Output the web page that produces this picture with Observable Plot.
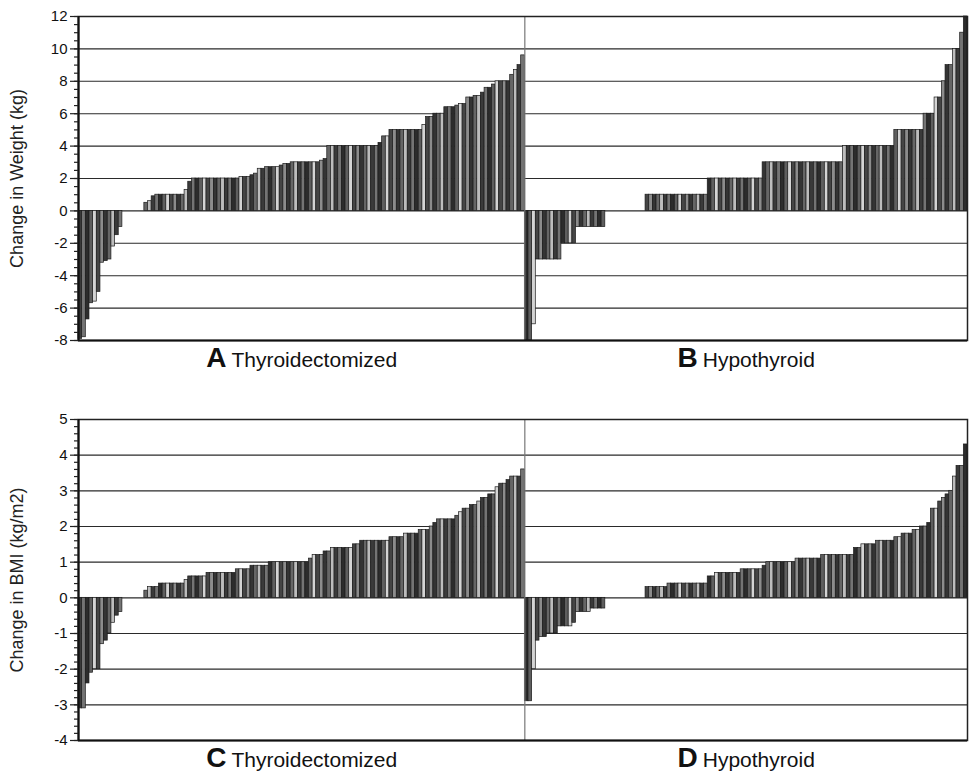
<!DOCTYPE html>
<html><head><meta charset="utf-8">
<script src="https://cdn.jsdelivr.net/npm/d3@7"></script>
<script src="https://cdn.jsdelivr.net/npm/@observablehq/plot@0.6"></script>
<style>
body{margin:0;background:#fff;}
#chart{width:971px;height:783px;}
#chart svg{display:block;}
</style></head><body><div id="chart"></div>
<script>
// Change in weight (kg), sorted, one value per patient
const weightThyroidectomized = [-7.9, -7.8, -6.7, -5.7, -5.6, -5.0, -3.2, -3.1, -3.0, -2.2, -1.5, -1.0,
  0, 0, 0, 0, 0, 0,
  0.5, 0.6, 0.9,
  1, 1, 1, 1, 1, 1, 1, 1,
  1.3, 1.8,
  2, 2, 2, 2, 2, 2, 2, 2, 2, 2, 2, 2, 2,
  2.1, 2.1, 2.1, 2.2, 2.3, 2.6, 2.6, 2.7, 2.7, 2.7, 2.7, 2.8, 2.9, 2.9,
  3, 3, 3, 3, 3, 3, 3, 3, 3.1, 3.2,
  4, 4, 4, 4, 4, 4, 4, 4, 4, 4, 4, 4, 4, 4,
  4.2, 4.6, 4.6,
  5, 5, 5, 5, 5, 5, 5, 5, 5,
  5.3, 5.8, 5.8, 6, 6, 6, 6.4, 6.4, 6.4, 6.5, 6.6, 6.6,
  7, 7, 7.1, 7.1, 7.3, 7.6, 7.6, 7.8,
  8, 8, 8, 8, 8.4, 8.7, 9.0, 9.6];
const weightHypothyroid = [-8, -8, -7,
  -3, -3, -3, -3, -3, -3, -3, -2, -2, -2, -2,
  -1, -1, -1, -1, -1, -1, -1, -1,
  0, 0, 0, 0, 0, 0, 0, 0, 0, 0, 0,
  1, 1, 1, 1, 1, 1, 1, 1, 1, 1, 1, 1, 1, 1, 1, 1, 1,
  2, 2, 2, 2, 2, 2, 2, 2, 2, 2, 2, 2, 2, 2, 2,
  3, 3, 3, 3, 3, 3, 3, 3, 3, 3, 3, 3, 3, 3, 3, 3, 3, 3, 3, 3, 3, 3,
  4, 4, 4, 4, 4, 4, 4, 4, 4, 4, 4, 4, 4, 4,
  5, 5, 5, 5, 5, 5, 5, 5,
  6, 6, 6, 7, 7, 8, 9, 9, 10, 10, 11, 12];
// Change in BMI (kg/m2)
const bmiThyroidectomized = [-3.1, -3.1, -2.4, -2.1, -2.0, -2.0, -1.3, -1.2, -1.0, -0.7, -0.5, -0.4,
  0, 0, 0, 0, 0, 0,
  0.2, 0.3, 0.3, 0.3, 0.4, 0.4, 0.4, 0.4, 0.4, 0.4, 0.4, 0.5,
  0.6, 0.6, 0.6, 0.6, 0.6, 0.7, 0.7, 0.7, 0.7, 0.7, 0.7, 0.7, 0.7,
  0.8, 0.8, 0.8, 0.8, 0.9, 0.9, 0.9, 0.9, 0.9,
  1, 1, 1, 1, 1, 1, 1, 1, 1, 1, 1,
  1.1, 1.2, 1.2, 1.2, 1.3, 1.3, 1.4, 1.4, 1.4, 1.4, 1.4, 1.4, 1.5, 1.5,
  1.6, 1.6, 1.6, 1.6, 1.6, 1.6, 1.6, 1.6, 1.7, 1.7, 1.7, 1.7,
  1.8, 1.8, 1.8, 1.8, 1.9, 1.9, 1.9, 2.0, 2.1, 2.2, 2.2, 2.2, 2.2, 2.2,
  2.3, 2.4, 2.5, 2.5, 2.6, 2.6, 2.7, 2.8, 2.8, 2.9, 2.9,
  3.1, 3.2, 3.2, 3.3, 3.4, 3.4, 3.4, 3.6];
const bmiHypothyroid = [-2.9, -2.9, -2.0, -1.2, -1.1, -1.1, -1.0, -1.0, -1.0,
  -0.8, -0.8, -0.8, -0.8, -0.7, -0.4, -0.4, -0.4, -0.4, -0.3, -0.3, -0.3, -0.3,
  0, 0, 0, 0, 0, 0, 0, 0, 0, 0, 0,
  0.3, 0.3, 0.3, 0.3, 0.3, 0.3, 0.4, 0.4, 0.4, 0.4, 0.4, 0.4, 0.4, 0.4, 0.4, 0.4, 0.4,
  0.6, 0.6, 0.7, 0.7, 0.7, 0.7, 0.7, 0.7, 0.7, 0.8, 0.8, 0.8, 0.8, 0.8, 0.8, 0.9,
  1, 1, 1, 1, 1, 1, 1, 1, 1.1, 1.1, 1.1, 1.1, 1.1, 1.1, 1.1,
  1.2, 1.2, 1.2, 1.2, 1.2, 1.2, 1.2, 1.2, 1.2, 1.4, 1.4,
  1.5, 1.5, 1.5, 1.5, 1.6, 1.6, 1.6, 1.6, 1.6, 1.7, 1.7, 1.8, 1.8, 1.8,
  1.9, 1.9, 2.0, 2.0, 2.1, 2.5, 2.5, 2.7, 2.8, 2.9, 3.0, 3.4, 3.7, 3.7, 4.3];

const panelLetters = ["A", "B", "C", "D"];
const panelNames = ["Thyroidectomized", "Hypothyroid", "Thyroidectomized", "Hypothyroid"];
const weightTicks = [-8, -6, -4, -2, 0, 2, 4, 6, 8, 10, 12];
const bmiTicks = [-4, -3, -2, -1, 0, 1, 2, 3, 4, 5];
const weightMinorStep = 0.5;
const bmiMinorStep = 0.2;
const yLabels = ["Change in Weight (kg)", "Change in BMI (kg/m2)"];
const shades = ["#3a3a3a", "#747474", "#2c2c2c", "#5e5e5e", "#d4d4d4", "#454545", "#8c8c8c", "#343434", "#666666", "#bdbdbd"];

const NS = "http://www.w3.org/2000/svg";

function row({left, right, ticks, minorStep, yLabel, letters, names, height, marginTop, marginBottom}) {
  const nL = left.length, nR = right.length, n = nL + nR;
  const bars = [
    ...left.map((v, i) => ({i, value: v})),
    ...right.map((v, i) => ({i: nL + i, value: v}))
  ];
  bars.forEach((d, k) => d.fill = shades[k % shades.length]);
  const [y0, y1] = d3.extent(ticks);
  const minor = d3.range(Math.round((y1 - y0) / minorStep) + 1).map(k => +(y0 + k * minorStep).toFixed(2));
  const labels = [
    {x: nL / 2, letter: letters[0], name: names[0]},
    {x: nL + nR / 2, letter: letters[1], name: names[1]}
  ];
  const svg = Plot.plot({
    width: 971, height, marginLeft: 78, marginRight: 4, marginTop, marginBottom,
    style: {fontFamily: "'Liberation Sans', Arial, sans-serif", background: "white", color: "#111", overflow: "visible"},
    x: {domain: [0, n], axis: null},
    y: {domain: [y0, y1], axis: null},
    color: {type: "identity"},
    marks: [
      Plot.gridY(ticks, {stroke: "#2a2a2a", strokeOpacity: 1, strokeWidth: 1.1}),
      Plot.rectY(bars, {x1: "i", x2: d => d.i + 1, y1: () => 0, y2: "value", fill: "fill", stroke: "#1c1c1c", strokeWidth: 0.7}),
      Plot.ruleX([nL], {stroke: "#777", strokeWidth: 1.2}),
      Plot.frame({stroke: "#222", strokeWidth: 1.5}),
      Plot.ruleX([0], {stroke: "#111", strokeWidth: 2.2}),
      Plot.ruleY([y0], {stroke: "#111", strokeWidth: 2.2}),
      Plot.axisY(minor, {tickSize: 4, tickFormat: () => "", label: null, stroke: "#222", strokeWidth: 1.2}),
      Plot.axisY(ticks, {tickSize: 8, tickPadding: 3, fontSize: 15, label: null, stroke: "#222", strokeWidth: 1.2, tickFormat: d => String(d)}),
      Plot.text([yLabel], {frameAnchor: "left", rotate: -90, dx: -61, fontSize: 18, fill: "#222", textAnchor: "middle", text: d => d}),
      Plot.text(labels, {x: "x", frameAnchor: "bottom", dy: 26, fontSize: 21, fill: "#111", textAnchor: "middle", text: d => d.letter + " " + d.name})
    ]
  });
  svg.querySelectorAll("text").forEach(t => {
    const lab = labels.find(l => t.textContent === l.letter + " " + l.name);
    if (!lab) return;
    t.textContent = "";
    const a = document.createElementNS(NS, "tspan");
    a.textContent = lab.letter;
    a.setAttribute("font-weight", "bold");
    a.setAttribute("font-size", "28");
    const b = document.createElementNS(NS, "tspan");
    b.textContent = lab.name;
    b.setAttribute("dx", "5");
    b.setAttribute("font-size", "21");
    t.appendChild(a);
    t.appendChild(b);
  });
  return svg;
}

const chart = document.getElementById("chart");
chart.appendChild(row({
  left: weightThyroidectomized, right: weightHypothyroid, ticks: weightTicks, minorStep: weightMinorStep,
  yLabel: yLabels[0], letters: panelLetters.slice(0, 2), names: panelNames.slice(0, 2),
  height: 390, marginTop: 16, marginBottom: 50
}));
chart.appendChild(row({
  left: bmiThyroidectomized, right: bmiHypothyroid, ticks: bmiTicks, minorStep: bmiMinorStep,
  yLabel: yLabels[1], letters: panelLetters.slice(2, 4), names: panelNames.slice(2, 4),
  height: 393, marginTop: 29, marginBottom: 43
}));
</script></body></html>
